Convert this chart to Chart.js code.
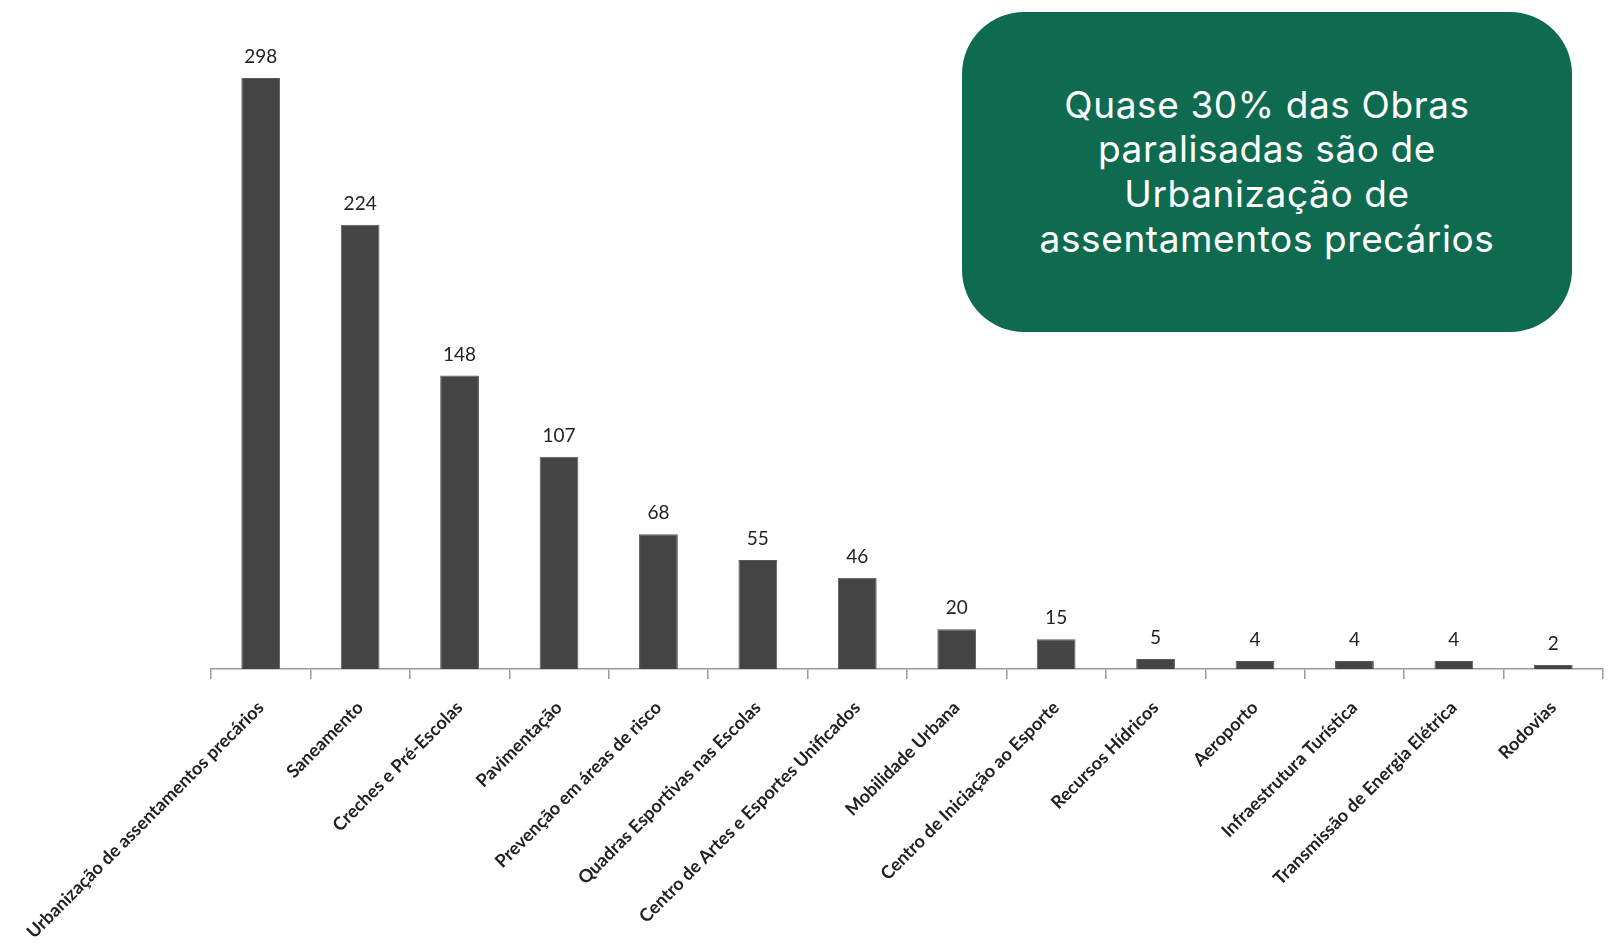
<!DOCTYPE html>
<html lang="pt-BR">
<head>
<meta charset="utf-8">
<title>Obras paralisadas por tipo</title>
<script src="https://cdn.jsdelivr.net/npm/chart.js@4.4.1/dist/chart.umd.min.js"></script>
<style>
  html, body { margin: 0; padding: 0; background: #fff; }
  .wrap { position: relative; width: 1614px; height: 951px; }
  .callout {
    position: absolute; left: 962px; top: 12px; width: 610px; height: 320px;
    border-radius: 62px; background: #0f6b4f; color: #fff;
    display: flex; align-items: center; justify-content: center; text-align: center;
    font-family: Inter, "Open Sans", sans-serif; font-size: 37px; line-height: 44.6px;
    letter-spacing: 0.6px;
  }
</style>
</head>
<body>
<div class="wrap">
  <canvas id="obras" width="1614" height="951"></canvas>
  <div class="callout">Quase 30% das Obras<br>paralisadas são de<br>Urbanização de<br>assentamentos precários</div>
</div>
<script>
// categorias e quantidade de obras paralisadas
const categories = [
  'Urbanização de assentamentos precários',
  'Saneamento',
  'Creches e Pré-Escolas',
  'Pavimentação',
  'Prevenção em áreas de risco',
  'Quadras Esportivas nas Escolas',
  'Centro de Artes e Esportes Unificados',
  'Mobilidade Urbana',
  'Centro de Iniciação ao Esporte',
  'Recursos Hídricos',
  'Aeroporto',
  'Infraestrutura Turística',
  'Transmissão de Energia Elétrica',
  'Rodovias'
];
const obras = [298, 224, 148, 107, 68, 55, 46, 20, 15, 5, 4, 4, 4, 2];

// numbers above each bar
const valueLabels = {
  id: 'valueLabels',
  afterDatasetsDraw(chart) {
    const ctx = chart.ctx;
    const meta = chart.getDatasetMeta(0);
    ctx.save();
    ctx.font = '19px Lato';
    ctx.fillStyle = '#222';
    ctx.textAlign = 'center';
    ctx.textBaseline = 'middle';
    meta.data.forEach((bar, i) => {
      ctx.fillText(obras[i], bar.x, bar.y - 21);
    });
    ctx.restore();
  }
};

new Chart(document.getElementById('obras'), {
  type: 'bar',
  data: {
    labels: categories,
    datasets: [{
      data: obras,
      backgroundColor: '#444444',
      borderColor: '#5a5a5a',
      borderWidth: 1,
      categoryPercentage: 1,
      barPercentage: 0.39
    }]
  },
  options: {
    responsive: false,
    animation: false,
    layout: { padding: { left: 211, right: 11, top: 74, bottom: 0 } },
    plugins: { legend: { display: false }, tooltip: { enabled: false } },
    scales: {
      x: {
        afterFit: (scale) => { scale.height = 282; },
        grid: { offset: true, drawOnChartArea: false, drawTicks: true, tickLength: 10, color: '#9a9a9a', lineWidth: 1.5 },
        border: { display: true, color: '#9a9a9a', width: 1.5 },
        ticks: {
          autoSkip: false, minRotation: 45, maxRotation: 45, padding: 18,
          color: '#222', font: { family: 'Lato', size: 18, weight: 'bold' }
        }
      },
      y: { display: false, min: 0, max: 300 }
    }
  },
  plugins: [valueLabels]
});
</script>
</body>
</html>
